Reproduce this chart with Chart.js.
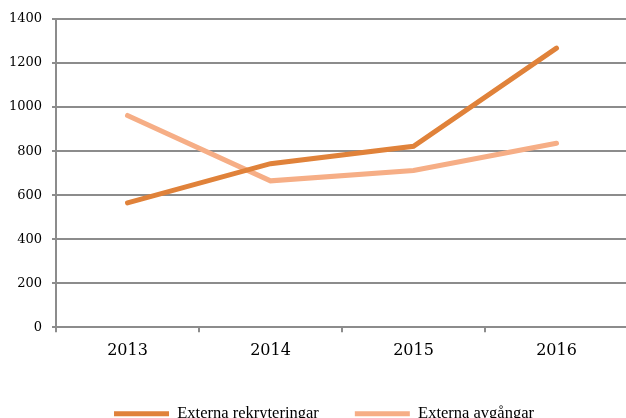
<!DOCTYPE html>
<html>
<head>
<meta charset="utf-8">
<script src="https://cdn.jsdelivr.net/npm/chart.js@4"></script>
<style>
    html, body { margin: 0; padding: 0; background: #fff; }
    #frame { width: 626px; height: 418px; overflow: hidden; position: relative; }
    #box { width: 628px; height: 432px; position: absolute; left: 0; top: 0; }
</style>
</head>
<body>
<div id="frame"><div id="box"><canvas id="line-chart"></canvas></div></div>
<script>
const years = ["2013", "2014", "2015", "2016"];
const rekryteringar = [565, 743, 822, 1268];
const avgangar = [962, 665, 712, 836];

const gridColor = "#8c8c8c";
const serif = "'Liberation Serif', 'DejaVu Serif', serif";
const wideSerif = "'DejaVu Serif', serif";

// legend in the original sits a little right of centre
const legendShift = {
    id: "legendShift",
    afterLayout: function (chart) {
        if (chart.legend) {
            chart.legend.left += 20;
        }
    },
};

const config = {
    type: "line",
    data: {
        labels: years,
        datasets: [
            {
                label: "Externa rekryteringar",
                data: rekryteringar,
                borderColor: "#e0823a",
                backgroundColor: "#e0823a",
                borderWidth: 5,
                borderCapStyle: "round",
                pointRadius: 0,
                pointStyle: "line",
                tension: 0,
            },
            {
                label: "Externa avgångar",
                data: avgangar,
                borderColor: "#f6ae86",
                backgroundColor: "#f6ae86",
                borderWidth: 5,
                borderCapStyle: "round",
                pointRadius: 0,
                pointStyle: "line",
                tension: 0,
            },
        ],
    },
    plugins: [legendShift],
    options: {
        responsive: true,
        maintainAspectRatio: false,
        animation: { duration: 0 },
        layout: {
            padding: { top: 19, right: 0, left: 0, bottom: 0 },
        },
        scales: {
            x: {
                offset: true,
                grid: {
                    offset: true,
                    drawOnChartArea: false,
                    drawTicks: true,
                    tickLength: 5,
                    color: gridColor,
                    lineWidth: 2,
                },
                border: { color: gridColor, width: 2 },
                ticks: {
                    color: "#000",
                    padding: 9,
                    font: { family: wideSerif, size: 16 },
                },
            },
            y: {
                min: 0,
                max: 1400,
                afterFit: function (scale) {
                    scale.width = 56;
                },
                grid: {
                    color: gridColor,
                    lineWidth: 2,
                    tickLength: 4,
                },
                border: { color: gridColor, width: 2 },
                ticks: {
                    stepSize: 200,
                    color: "#000",
                    padding: 10,
                    font: { family: wideSerif, size: 13 },
                    callback: function (value) {
                        return String(value);
                    },
                },
            },
        },
        plugins: {
            legend: {
                position: "bottom",
                labels: {
                    usePointStyle: true,
                    pointStyleWidth: 55,
                    boxHeight: 5,
                    padding: 36,
                    color: "#000",
                    font: { family: serif, size: 16.5 },
                },
            },
            tooltip: { enabled: false },
        },
    },
};

new Chart(document.getElementById("line-chart"), config);
</script>
</body>
</html>
